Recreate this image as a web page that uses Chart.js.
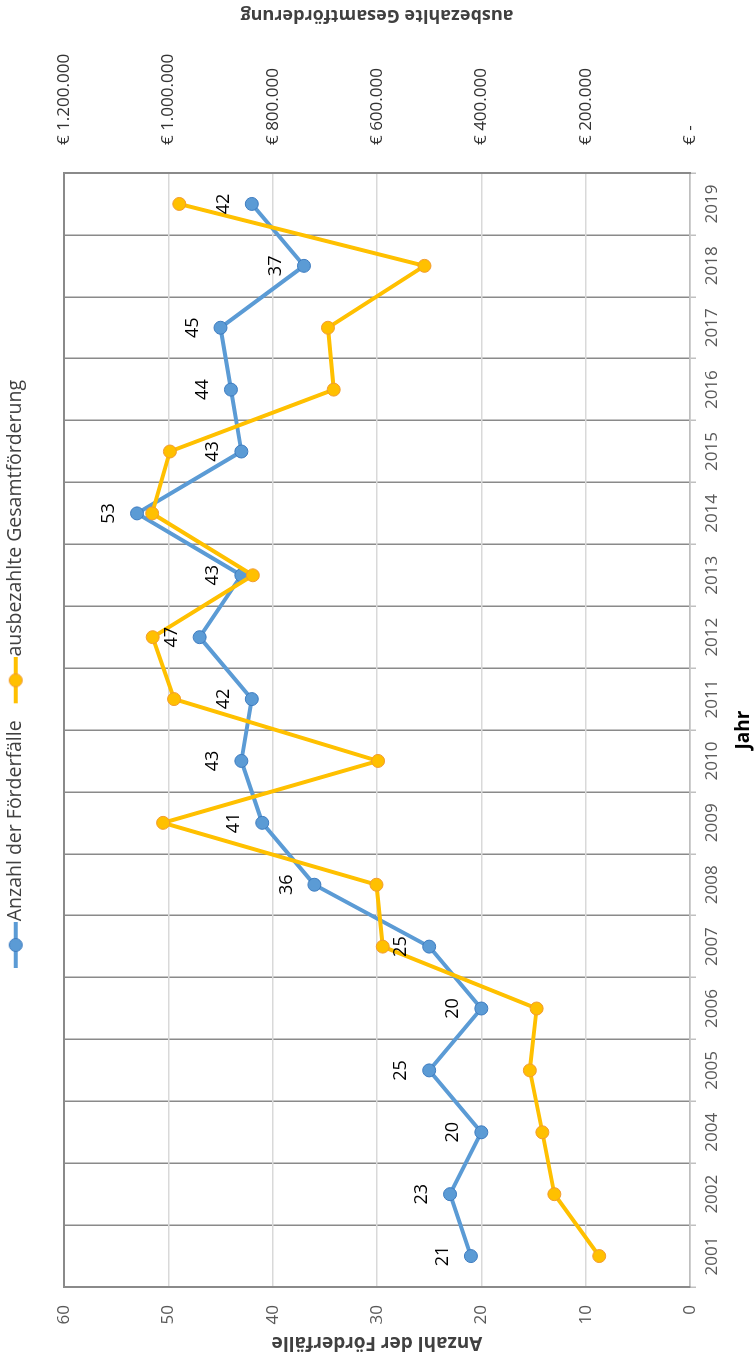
<!DOCTYPE html>
<html>
<head>
<meta charset="utf-8">
<script src="https://cdn.jsdelivr.net/npm/chart.js@4.4.1/dist/chart.umd.min.js"></script>
<style>
html, body { margin: 0; padding: 0; background: #ffffff; overflow: hidden; width: 755px; height: 1359px; }
#wrap { position: absolute; left: 0; top: 0; width: 1359px; height: 755px;
        transform-origin: 0 0; transform: translate(0px, 1359px) rotate(-90deg); }
canvas { display: block; }
</style>
</head>
<body>
<div id="wrap"><canvas id="chart" width="1359" height="755" style="width:1359px;height:755px"></canvas></div>
<script>
// ---- data ----
const years = ["2001","2002","2004","2005","2006","2007","2008","2009","2010","2011","2012","2013","2014","2015","2016","2017","2018","2019"];
const anzahlFoerderfaelle = [21,23,20,25,20,25,36,41,43,42,47,43,53,43,44,45,37,42];
const gesamtfoerderung = [174000,260000,283000,307000,294000,589000,601000,1010000,598000,989000,1030000,838000,1031000,997000,683000,694000,509000,979000];
const countTicks = [0,10,20,30,40,50,60];
const euroTicks = [0,200000,400000,600000,800000,1000000,1200000];
const seriesNames = ["Anzahl der Förderfälle","ausbezahlte Gesamtförderung"];
const axisTitles = { x: "Jahr", left: "Anzahl der Förderfälle", right: "ausbezahlte Gesamtförderung" };

// ---- styles ----
const FONT = '"Open Sans", "Liberation Sans", sans-serif';
const BLUE = '#5B9BD5', BLUE_EDGE = '#3E7CC0';
const GOLD = '#FFC000', GOLD_EDGE = '#F29B30';
const DARK_GRID = '#8a8a8a', LIGHT_GRID = '#d9d9d9', AXIS_LIGHT = '#bfbfbf';
const LEGEND_BOX = 48;

function euro(v) {
  if (v === 0) return '€ -';
  return '€ ' + String(Math.round(v)).replace(/\B(?=(\d{3})+(?!\d))/g, '.');
}

// legend symbol: line with a round marker (canvas used as point style)
function legendMarker(lineColor, fill, edge) {
  const c = document.createElement('canvas');
  const W = LEGEND_BOX + 18, lead = 20;
  c.width = W; c.height = 16;
  const g = c.getContext('2d');
  g.strokeStyle = lineColor; g.lineWidth = 4; g.lineCap = 'butt';
  g.beginPath(); g.moveTo(lead, 8); g.lineTo(W, 8); g.stroke();
  const cx = lead + (W - lead) / 2;
  g.fillStyle = fill; g.strokeStyle = edge; g.lineWidth = 1;
  g.beginPath(); g.arc(cx, 8, 6.5, 0, Math.PI * 2); g.fill(); g.stroke();
  return c;
}
const markers = [legendMarker(BLUE, BLUE, BLUE_EDGE), legendMarker(GOLD, GOLD, GOLD_EDGE)];

const pointLabels = {
  id: 'pointLabels',
  afterDatasetsDraw(chart) {
    const meta = chart.getDatasetMeta(0);
    const ctx = chart.ctx;
    ctx.save();
    ctx.font = '18px ' + FONT;
    ctx.fillStyle = '#000000';
    ctx.textAlign = 'center';
    ctx.textBaseline = 'middle';
    meta.data.forEach((pt, i) => {
      ctx.fillText(String(chart.data.datasets[0].data[i]), pt.x, pt.y - 28);
    });
    ctx.restore();
  }
};

const rightTitle = {
  id: 'rightTitle',
  afterDraw(chart) {
    const ctx = chart.ctx, a = chart.chartArea;
    ctx.save();
    ctx.translate(1344, (a.top + a.bottom) / 2);
    ctx.rotate(-Math.PI / 2);
    ctx.font = 'bold 18px ' + FONT;
    ctx.fillStyle = '#404040';
    ctx.textAlign = 'center';
    ctx.textBaseline = 'middle';
    ctx.fillText(axisTitles.right, 0, 0);
    ctx.restore();
  }
};

new Chart(document.getElementById('chart'), {
  type: 'line',
  data: {
    labels: years,
    datasets: [
      {
        label: seriesNames[0], data: anzahlFoerderfaelle, yAxisID: 'y', order: 1,
        borderColor: BLUE, backgroundColor: BLUE, borderWidth: 4,
        pointBackgroundColor: BLUE, pointBorderColor: BLUE_EDGE, pointBorderWidth: 1,
        pointRadius: 6.5, pointHoverRadius: 6.5, borderJoinStyle: 'round', borderCapStyle: 'round',
        tension: 0, fill: false
      },
      {
        label: seriesNames[1], data: gesamtfoerderung, yAxisID: 'y1', order: 0,
        borderColor: GOLD, backgroundColor: GOLD, borderWidth: 4,
        pointBackgroundColor: GOLD, pointBorderColor: GOLD_EDGE, pointBorderWidth: 1,
        pointRadius: 6.5, pointHoverRadius: 6.5, borderJoinStyle: 'round', borderCapStyle: 'round',
        tension: 0, fill: false
      }
    ]
  },
  options: {
    responsive: false,
    animation: false,
    devicePixelRatio: 1,
    layout: { padding: 0 },
    plugins: {
      tooltip: { enabled: false },
      legend: {
        display: true,
        position: 'top',
        labels: {
          usePointStyle: true,
          pointStyleWidth: LEGEND_BOX,
          padding: 6,
          color: '#404040',
          font: { family: FONT, size: 19.5 },
          generateLabels(chart) {
            return chart.data.datasets.map((ds, i) => ({
              text: ds.label, datasetIndex: i, pointStyle: markers[i],
              fillStyle: ds.backgroundColor, strokeStyle: ds.borderColor,
              lineWidth: 0, hidden: false, fontColor: '#404040'
            }));
          }
        }
      }
    },
    scales: {
      x: {
        type: 'category',
        position: 'bottom',
        offset: true,
        grid: { offset: true, color: DARK_GRID, lineWidth: 1.5, tickColor: AXIS_LIGHT, tickLength: 6, tickWidth: 1.5 },
        border: { color: AXIS_LIGHT, width: 1.5 },
        ticks: { color: '#595959', font: { family: FONT, size: 17 }, maxRotation: 0, minRotation: 0, autoSkip: false, padding: 6 },
        title: { display: true, text: axisTitles.x, color: '#000000', font: { family: FONT, size: 19, weight: 'bold' }, padding: { top: 0, bottom: 0 } },
        afterFit(s) { s.height = 65; }
      },
      xTop: {
        type: 'linear', axis: 'x', position: 'top', display: true,
        grid: { display: false }, border: { display: false }, ticks: { display: false },
        afterFit(s) { s.height = 28.5; }
      },
      y: {
        type: 'linear', position: 'left', min: 0, max: 60,
        afterBuildTicks(s) { s.ticks = countTicks.map(v => ({ value: v })); },
        grid: {
          color: (c) => c.tick && c.tick.value === 60 ? DARK_GRID : (c.tick && c.tick.value === 0 ? AXIS_LIGHT : LIGHT_GRID),
          lineWidth: (c) => c.tick && c.tick.value === 60 ? 2 : 1.5,
          drawTicks: false
        },
        border: { color: DARK_GRID, width: 2 },
        ticks: { color: '#595959', font: { family: FONT, size: 17 }, padding: 18 },
        title: { display: true, text: axisTitles.left, color: '#404040', font: { family: FONT, size: 19, weight: 'bold' }, padding: { top: 5, bottom: 0 } },
        afterFit(s) { s.width = 72; }
      },
      y1: {
        type: 'linear', position: 'right', min: 0, max: 1200000,
        afterBuildTicks(s) { s.ticks = euroTicks.map(v => ({ value: v })); },
        grid: { drawOnChartArea: false, drawTicks: false },
        border: { color: DARK_GRID, width: 2 },
        ticks: { color: '#333333', font: { family: FONT, size: 17 }, padding: 28, callback: (v) => euro(v) },
        afterFit(s) { s.width = 173; }
      }
    }
  },
  plugins: [pointLabels, rightTitle]
});
</script>
</body>
</html>
